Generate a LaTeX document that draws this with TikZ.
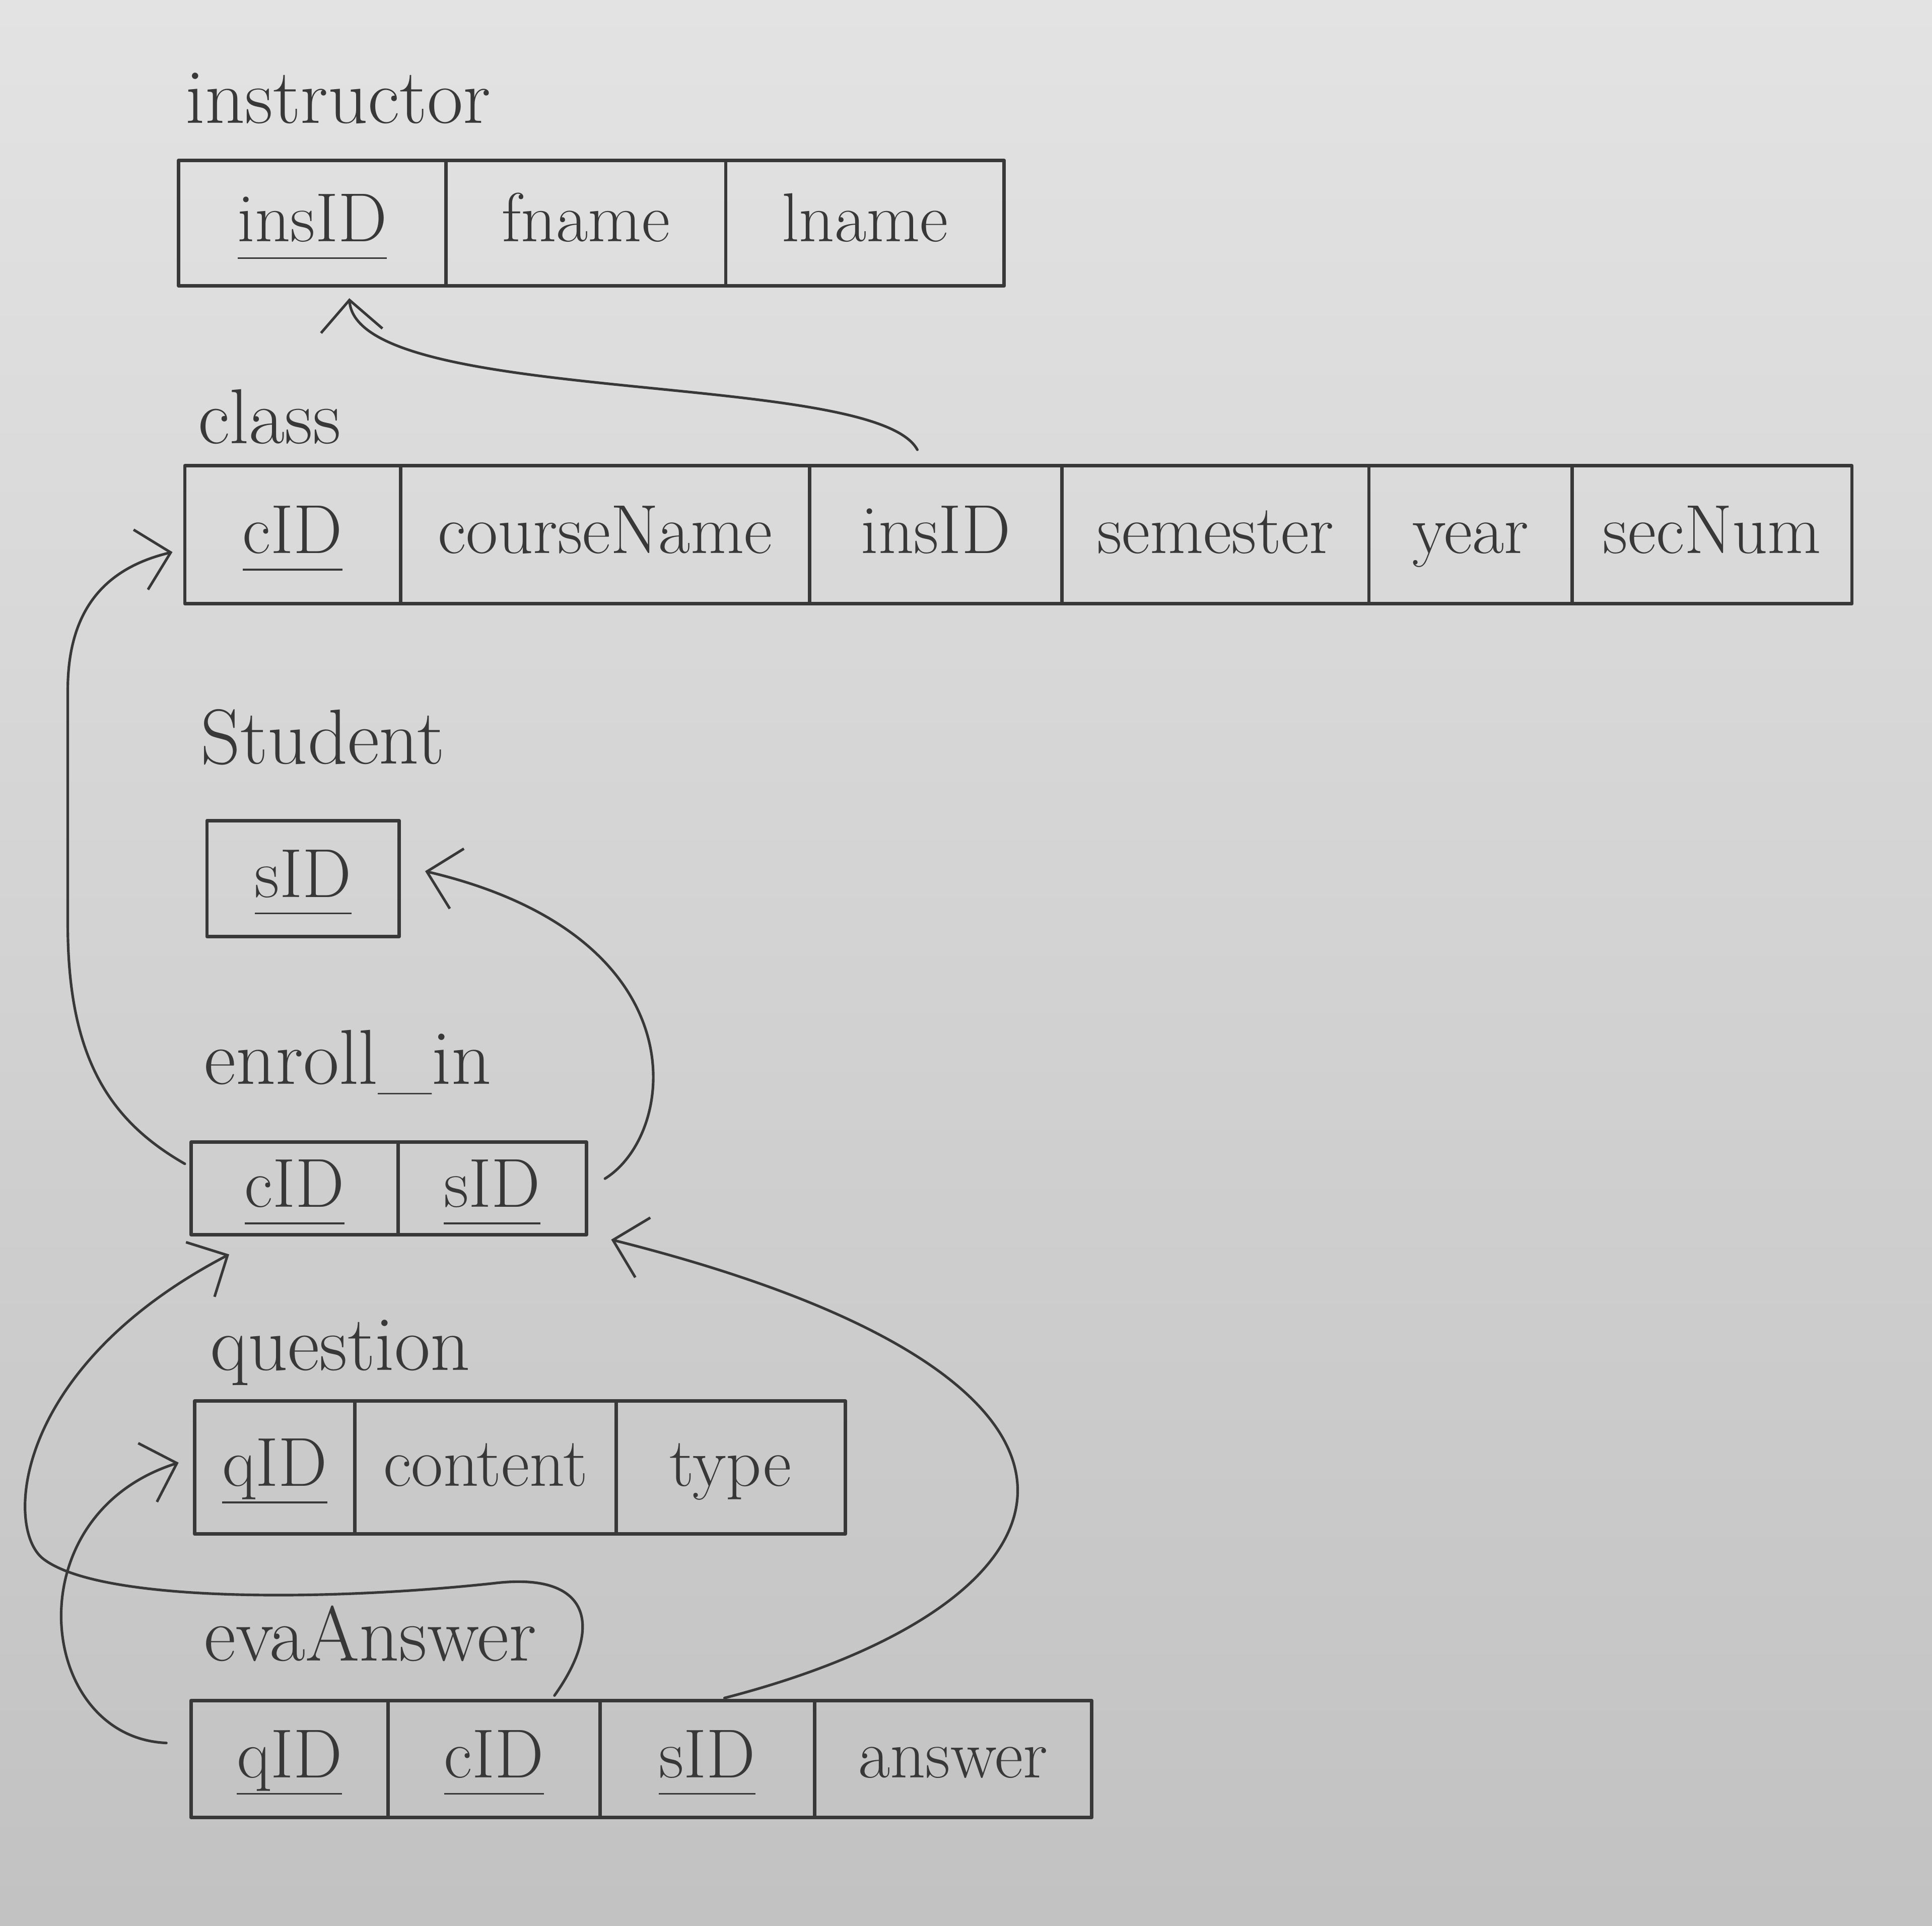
\documentclass[tikz,border=0pt]{standalone}
\usepackage{tikz}
\usetikzlibrary{arrows.meta}
\usetikzlibrary{positioning}
\usetikzlibrary{calc}
\definecolor{ink}{gray}{0.22}
\definecolor{paperhi}{gray}{0.89}
\definecolor{paperlo}{gray}{0.76}
\newcommand{\pk}[1]{\underline{\raisebox{0pt}[\height][0.15em]{#1}}}

\begin{document}
\begin{tikzpicture}[line cap=round,line join=round,x=1.0cm,y=1.0cm,
  cell/.style={draw=ink,line width=0.8pt,inner sep=0pt,outer sep=0pt,minimum height=#1,text height=0.5cm,text depth=0.2cm,text=ink,font=\fontsize{16}{19}\selectfont},
  tname/.style={anchor=base west,inner sep=0pt,text=ink,font=\fontsize{18}{22}\selectfont},
  fk/.style={draw=ink,line width=0.6pt,-{Straight Barb[length=2.5mm,width=5mm]}}]
			\shade[top color=paperhi,bottom color=paperlo] (0,0) rectangle (15.68,-15.63);
			\useasboundingbox (0,0) rectangle (15.68,-15.63);
			\node[tname] (l-ins) at (1.50,-1.00) {instructor};
			\node[cell=1.02cm,minimum width=2.17cm,anchor=west] (ins-id) at (1.45,-1.81) {\pk{insID}};
			\node[cell=1.02cm,minimum width=2.27cm,right=0pt of ins-id] (ins-fn) {fname};
			\node[cell=1.02cm,minimum width=2.26cm,right=0pt of ins-fn] (ins-ln) {lname};
			\node[tname] (l-cls) at (1.60,-3.60) {class};
			\node[cell=1.12cm,minimum width=1.75cm,anchor=west] (cls-cid) at (1.50,-4.34) {\pk{cID}};
			\node[cell=1.12cm,minimum width=3.32cm,right=0pt of cls-cid] (cls-cn) {courseName};
			\node[cell=1.12cm,minimum width=2.05cm,right=0pt of cls-cn] (cls-ins) {insID};
			\node[cell=1.12cm,minimum width=2.49cm,right=0pt of cls-ins] (cls-sem) {semester};
			\node[cell=1.12cm,minimum width=1.65cm,right=0pt of cls-sem] (cls-yr) {year};
			\node[cell=1.12cm,minimum width=2.27cm,right=0pt of cls-yr] (cls-sec) {secNum};
			\node[tname] (l-stu) at (1.62,-6.20) {Student};
			\node[cell=0.94cm,minimum width=1.56cm,anchor=west] (stu-id) at (1.68,-7.13) {\pk{sID}};
			\node[tname] (l-enr) at (1.65,-8.80) {enroll\_in};
			\node[cell=0.75cm,minimum width=1.68cm,anchor=west] (enr-cid) at (1.55,-9.645) {\pk{cID}};
			\node[cell=0.75cm,minimum width=1.53cm,right=0pt of enr-cid] (enr-sid) {\pk{sID}};
			\node[tname] (l-que) at (1.70,-11.12) {question};
			\node[cell=1.08cm,minimum width=1.30cm,anchor=west] (que-qid) at (1.58,-11.91) {\pk{qID}};
			\node[cell=1.08cm,minimum width=2.12cm,right=0pt of que-qid] (que-con) {content};
			\node[cell=1.08cm,minimum width=1.86cm,right=0pt of que-con] (que-typ) {type};
			\node[tname] (l-eva) at (1.65,-13.48) {evaAnswer};
			\node[cell=0.95cm,minimum width=1.60cm,anchor=west] (eva-qid) at (1.55,-14.275) {\pk{qID}};
			\node[cell=0.95cm,minimum width=1.72cm,right=0pt of eva-qid] (eva-cid) {\pk{cID}};
			\node[cell=0.95cm,minimum width=1.74cm,right=0pt of eva-cid] (eva-sid) {\pk{sID}};
			\node[cell=0.95cm,minimum width=2.25cm,right=0pt of eva-sid] (eva-ans) {answer};
			\draw[fk] ($(cls-ins.north)+(-0.15,0.13)$) .. controls (7.1,-3.0) and (2.9,-3.3) .. ($(ins-id.south)+(0.3,-0.1)$);
			\draw[fk] ($(enr-cid.west)+(-0.05,0.2)$) .. controls (0.9,-9.1) and (0.55,-8.6) .. (0.55,-7.5) -- (0.55,-5.6) .. controls (0.55,-4.9) and (0.9,-4.6) .. ($(cls-cid.west)+(-0.1,-0.14)$);
			\draw[fk] ($(enr-sid.east)+(0.15,0.08)$) .. controls (5.5,-9.2) and (5.7,-7.6) .. ($(stu-id.east)+(0.21,0.06)$);
			\draw[fk] ($(eva-sid.north)+(0.14,0.02)$) .. controls (8.9,-13.0) and (9.5,-11.2) .. ($(enr-sid.south east)+(0.2,-0.04)$);
			\draw[fk] ($(eva-cid.north)+(0.49,0.04)$) .. controls (4.9,-13.2) and (4.8,-12.75) .. (4.0,-12.85) .. controls (2.6,-13.0) and (0.8,-13.0) .. (0.35,-12.65) .. controls (0.035,-12.405) and (0.1,-11.1) .. ($(enr-cid.south)+(-0.53,-0.16)$);
			\draw[fk] ($(eva-qid.west)+(-0.2,0.13)$) .. controls (0.3,-14.1) and (0.1,-12.3) .. ($(que-qid.west)+(-0.13,0.04)$);
			\end{tikzpicture}
\end{document}
